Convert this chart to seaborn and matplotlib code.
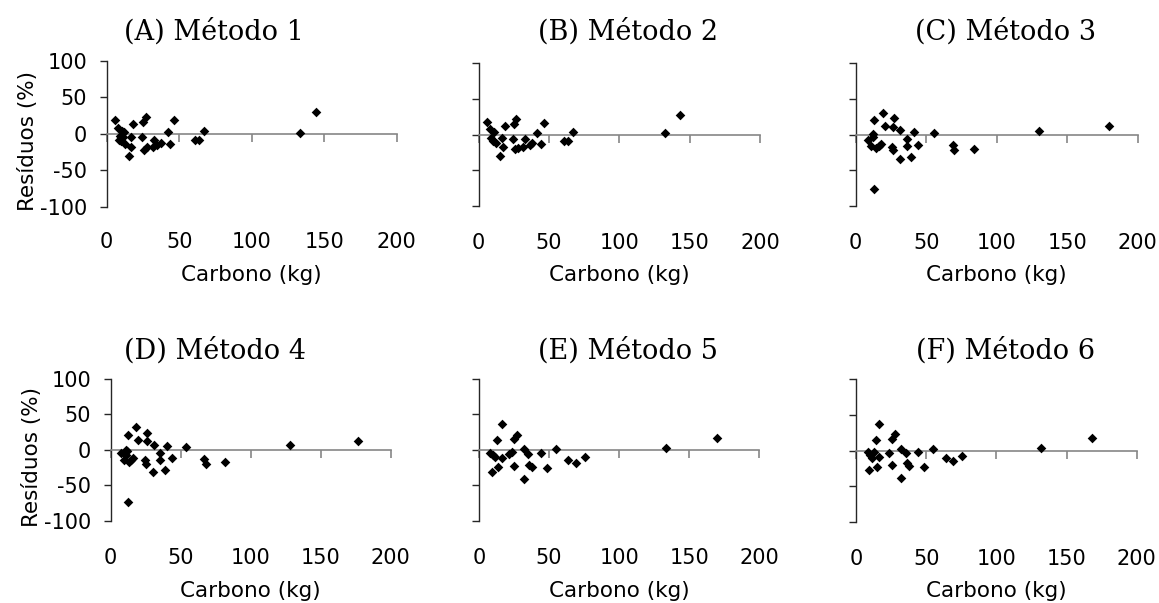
import matplotlib
matplotlib.use('Agg')
import matplotlib.pyplot as plt
import pandas as pd
import seaborn as sns

# Carbono (kg) x resíduos (%) for each method
carbono_m1 = [5.5, 7.8, 10.8, 12.0, 9.0, 8.5, 10.0, 11.3, 12.7, 16.6, 17.0, 15.4, 18.4, 24.7, 27.0,
              24.2, 25.8, 28.0, 31.6, 32.3, 35.0, 37.3, 42.0, 43.5, 46.5, 61.0, 63.4, 67.0, 133.0, 144.5]
residuos_m1 = [18.7, 7.8, 4.0, 2.0, -3.7, -8.0, -10.5, -5.0, -13.7, -5.0, -17.8, -31.0, 13.7, 16.0, 22.4,
               -5.0, -22.0, -18.7, -18.7, -8.2, -15.0, -12.8, 1.8, -14.0, 18.3, -8.7, -8.7, 3.2, 1.4, 29.2]

carbono_m2 = [6.1, 8.0, 10.8, 9.2, 10.4, 12.3, 17.0, 17.5, 15.1, 18.7, 25.0, 26.5, 24.6, 25.8,
              28.2, 31.7, 32.9, 36.5, 37.7, 41.7, 44.3, 46.5, 60.7, 63.6, 66.9, 132.2, 142.9]
residuos_m2 = [18.3, 7.8, 3.2, -4.0, -8.7, -11.9, -4.0, -17.0, -30.0, 12.3, 14.6, 22.4, -6.0, -20.0,
               -18.7, -17.8, -6.4, -14.2, -12.0, 2.3, -12.8, 16.9, -8.2, -8.2, 3.2, 1.8, 27.4]

carbono_m3 = [8.9, 10.6, 12.0, 12.5, 12.9, 14.4, 16.7, 17.7, 12.9, 19.1, 20.8, 25.5, 26.2, 27.4,
              26.7, 31.5, 31.5, 36.2, 36.2, 39.0, 41.4, 44.5, 55.2, 68.8, 70.0, 83.7, 130.3, 179.7]
residuos_m3 = [-7.5, -15.5, 0.5, -2.8, 20.2, -19.3, -15.5, -13.6, -75.8, 30.6, 12.2, -17.0, -21.6, 23.0,
               11.3, 6.1, -34.8, -6.1, -16.0, -31.0, 3.3, -14.6, 2.4, -15.0, -21.6, -20.7, 5.6, 11.8]

carbono_m4 = [7.7, 9.4, 10.8, 11.3, 11.8, 12.2, 13.2, 14.8, 16.0, 12.2, 17.9, 19.6, 24.3, 25.5, 26.0,
              26.0, 30.7, 30.3, 35.0, 35.0, 38.6, 40.3, 43.8, 54.0, 67.0, 68.3, 82.0, 128.0, 177.0]
residuos_m4 = [-4.7, -14.5, -7.0, 0.0, -2.3, 20.6, -16.9, -14.0, -11.7, -73.5, 32.3, 14.0, -15.0, -20.6, 23.9,
               12.6, 6.6, -31.8, -4.7, -15.0, -28.0, 5.6, -12.2, 3.7, -13.6, -19.7, -17.8, 6.6, 12.2]

carbono_m5 = [8.0, 9.9, 11.5, 9.2, 13.9, 13.2, 16.3, 16.8, 21.8, 23.7, 25.1, 25.3, 27.0,
              32.2, 32.4, 35.3, 36.0, 37.7, 44.0, 48.4, 55.0, 63.8, 69.3, 75.9, 133.4, 169.7]
residuos_m5 = [-3.7, -7.0, -10.3, -30.4, -23.4, 13.6, -11.7, 36.0, -5.6, -2.3, -22.0, 15.5, 20.6,
               -40.7, 0.9, -5.6, -21.0, -24.4, -3.7, -25.3, 0.9, -13.6, -18.3, -10.3, 2.8, 16.9]

carbono_m6 = [8.9, 10.1, 11.3, 12.5, 9.6, 13.9, 14.8, 16.7, 16.7, 23.2, 25.5, 25.5, 27.9,
              32.2, 32.2, 35.7, 36.2, 38.1, 44.5, 48.6, 55.2, 64.3, 69.0, 75.6, 132.0, 168.3]
residuos_m6 = [-2.3, -7.0, -10.3, -2.3, -27.2, 14.5, -23.4, -9.4, 37.5, -3.7, -20.6, 15.5, 22.5,
               2.3, -38.9, -3.7, -17.3, -21.5, -2.8, -23.4, 1.9, -11.2, -15.0, -8.4, 3.7, 16.9]

titles = ['(A) Método 1', '(B) Método 2', '(C) Método 3',
          '(D) Método 4', '(E) Método 5', '(F) Método 6']
x_ticks = [0, 50, 100, 150, 200]
y_ticks = [-100, -50, 0, 50, 100]

series = [(carbono_m1, residuos_m1), (carbono_m2, residuos_m2), (carbono_m3, residuos_m3),
          (carbono_m4, residuos_m4), (carbono_m5, residuos_m5), (carbono_m6, residuos_m6)]

sns.set_style('ticks')
plt.rcParams['font.family'] = ['DejaVu Sans']
plt.rcParams['axes.unicode_minus'] = False
plt.rcParams['text.color'] = 'black'
plt.rcParams['axes.labelcolor'] = 'black'

W, H = 1159, 603
# plot areas in pixels: left, top, right, bottom
boxes = [(106.7, 60.7, 396.7, 206.7), (478.5, 63.3, 760.0, 206.0), (855.7, 63.3, 1137.7, 206.0),
         (110.5, 379.0, 390.7, 520.7), (478.9, 379.0, 759.3, 521.0), (856.0, 379.3, 1136.7, 521.7)]
title_xy = [(214, 40), (627.5, 40), (1005.7, 40), (214.5, 359), (627.5, 359), (1005.7, 359)]
ylabel_xy = {0: (28.3, 140.6), 3: (31.7, 456.7)}

fig = plt.figure(figsize=(W / 100, H / 100), dpi=100)

for i, (xs, ys) in enumerate(series):
    l, t, r, b = boxes[i]
    ax = fig.add_axes([l / W, 1 - b / H, (r - l) / W, (b - t) / H])
    df = pd.DataFrame({'Carbono': xs, 'Residuos': ys})
    sns.scatterplot(data=df, x='Carbono', y='Residuos', marker='D', color='black',
                    s=24, linewidth=0, zorder=3, ax=ax)
    ax.set_xlim(0, 200)
    ax.set_ylim(-100, 100)
    ax.set_xticks(x_ticks)
    ax.set_yticks(y_ticks)

    ax.spines['top'].set_visible(False)
    ax.spines['right'].set_visible(False)
    ax.spines['bottom'].set_position(('data', 0))
    ax.spines['bottom'].set_color('#868686')
    ax.spines['bottom'].set_linewidth(1.2)
    ax.spines['left'].set_color('#262626')
    ax.spines['left'].set_linewidth(1.0)

    ax.tick_params(axis='x', direction='out', length=5.8, width=1.2, color='#868686',
                   pad=65, labelsize=15, labelcolor='black')
    ax.tick_params(axis='y', direction='out', length=5, width=1.0, color='#262626',
                   pad=9, labelsize=15, labelcolor='black')
    if i % 3 != 0:
        ax.set_yticklabels([])

    ax.set_xlabel('Carbono (kg)', fontsize=15.5, labelpad=9)
    ax.set_ylabel('')

    tx, ty = title_xy[i]
    fig.text(tx / W, 1 - ty / H, titles[i], ha='center', va='baseline',
             fontsize=19.5, family='DejaVu Serif')
    if i in ylabel_xy:
        lx, ly = ylabel_xy[i]
        fig.text(lx / W, 1 - ly / H, 'Resíduos (%)', ha='center', va='center',
                 rotation=90, fontsize=15.5)

fig.savefig('out.png', dpi=100)
